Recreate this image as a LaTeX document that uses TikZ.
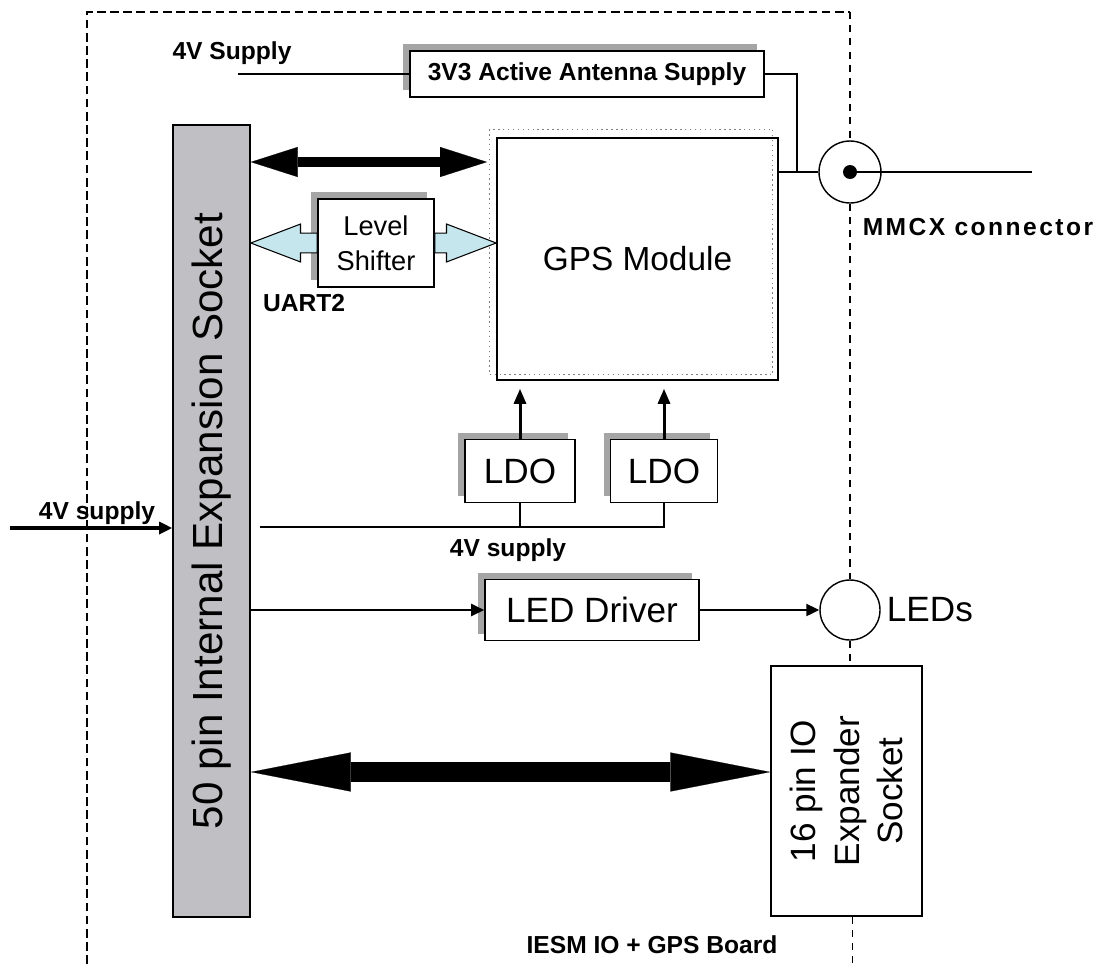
\documentclass[tikz,border=0pt]{standalone}
\usepackage{fontspec}
\setmainfont{Liberation Sans}
\usepackage{tikz}
\usetikzlibrary{arrows.meta,shadows,calc}

\definecolor{sockgray}{RGB}{192,192,196}
\definecolor{shiftblue}{RGB}{197,230,236}
\definecolor{shadowgray}{RGB}{165,165,165}

\tikzset{
  box/.style={draw, line width=0.9pt, fill=white, inner sep=0pt},
  shadowbox/.style={box, general shadow={shadow xshift=-0.14cm, shadow yshift=0.14cm, fill=shadowgray}},
  lbl/.style={font=\bfseries\fontsize{14}{16}\selectfont, inner sep=0pt},
  big/.style={font=\fontsize{20}{24}\selectfont},
  wire/.style={line width=1pt},
  sig/.style={line width=1.2pt, -{Triangle[length=0.26cm,width=0.24cm]}},
  bus/.style={line width=#1, {Triangle[length=2cm,width=0.78cm,line width=0.1pt]}-{Triangle[length=2cm,width=0.78cm,line width=0.1pt]}},
  border/.style={line width=1.5pt, dash pattern=on 5pt off 2.5pt},
  edgeline/.style={line width=0.8pt, dash pattern=on 4pt off 3.5pt},
  blockarrow/.style={line width=0.6pt, fill=shiftblue, to path={
    let \p1=(\tikztostart), \p2=(\tikztotarget), \n1={\x2-28.3*(\x2-\x1)/abs(\x2-\x1)} in
    (\x1,\y1+5.67pt) -- (\n1*1pt,\y1+5.67pt) -- (\n1*1pt,\y1+10.8pt) -- (\x2,\y1)
    -- (\n1*1pt,\y1-10.8pt) -- (\n1*1pt,\y1-5.67pt) -- (\x1,\y1-5.67pt) -- cycle}},
}

\begin{document}
\begin{tikzpicture}[x=0.02cm,y=-0.02cm]
   \useasboundingbox (0,0) rectangle (1102,964);

   % boxes
   \node[box, fill=sockgray, minimum width=1.54cm, minimum height=15.84cm] (sock) at (211.5,521) {};
   \node[rotate=90, font=\fontsize{24}{28}\selectfont] (socktxt) at (sock) {50 pin Internal Expansion Socket};

   \node[box, minimum width=5.62cm, minimum height=4.84cm, font=\fontsize{19}{23}\selectfont] (gps) at (637.5,259) {GPS Module};
   \draw[gray, dotted, line width=0.8pt] ([shift={(-7,-8)}]gps.north west) rectangle ([shift={(-6,-6)}]gps.south east);

   \node[shadowbox, lbl, minimum width=7.08cm, minimum height=0.92cm] (ant) at (587,74) {3V3 Active Antenna Supply};
   \node[shadowbox, align=center, font=\fontsize{15.5}{20}\selectfont, minimum width=2.32cm, minimum height=1.76cm] (ls) at (376,243) {Level\\Shifter};
   \node[shadowbox, big, minimum width=2.2cm, minimum height=1.26cm] (ldoa) at (520,471) {LDO};
   \node[shadowbox, big, minimum width=2.14cm, minimum height=1.26cm] (ldob) at (664,471) {LDO};
   \node[shadowbox, big, minimum width=4.28cm, minimum height=1.22cm] (drv) at (592,610) {LED Driver};

   \node[draw, circle, line width=0.8pt, minimum size=1.24cm] (mmcx) at (850,172) {};
   \node[draw, circle, line width=0.8pt, minimum size=1.2cm] (leds) at (850,610) {};
   \node[big, right] (ledtxt) at (leds.east) {LEDs};

   \node[box, minimum width=3.02cm, minimum height=5cm] (exp) at (846.5,791) {};
   \node[rotate=90, align=center, font=\fontsize{20}{25}\selectfont] (exptxt) at (exp) {16 pin IO\\Expander\\Socket};

   % labels
   \node[lbl] (suptop) at (232,53) {4V Supply};
   \node[lbl] (supleft) at (97,513) {4V supply};
   \node[lbl] (supmid) at (508,550) {4V supply};
   \node[lbl] (uart) at (304,303) {UART2};
   \node[lbl, font=\bfseries\fontsize{14}{16}\selectfont\addfontfeatures{LetterSpace=10}] (mmcxtxt) at (978,227) {MMCX connector};
   \node[lbl] (board) at (652,945) {IESM IO + GPS Board};

   % board outline
   \draw[border] (87,964) -- (87,12) -- (850,12);
   \draw[edgeline] (850,12) -- (mmcx.north);
   \draw[edgeline] (mmcx.south) -- (leds.north);
   \draw[edgeline] (leds.south) -- (leds.south |- exp.north);
   \draw[edgeline] ([xshift=0.12cm]exp.south) -- ++(0,48);

   % supplies
   \coordinate (antin) at (238,74);
   \draw[wire] (antin) -- (ant.west);
   \coordinate (rfjoin) at (797,172);
   \coordinate (rfout) at (1032,172);
   \draw[wire] (ant.east) -| (rfjoin);
   \draw[wire] (gps.east |- rfjoin) -- (mmcx.west);
   \draw[wire] (mmcx.center) -- (rfout);
   \fill (mmcx.center) circle (0.14cm);

   \coordinate (extin) at (10,528);
   \draw[sig, line width=1.8pt] (extin) -- (extin -| sock.west);
   \coordinate (supin) at (260,527);
   \draw[wire] (supin) -| (ldob.south);
   \draw[wire, line width=1.5pt] (ldoa.south) -- (ldoa.south |- supin);
   \draw[wire, line width=1.5pt] (ldob.south) -- (ldob.south |- supin);
   \draw[line width=1.7pt, -{Triangle[length=0.3cm,width=0.24cm]}, shorten >=0.16cm] (ldoa.north) -- (ldoa.north |- gps.south);
   \draw[line width=1.7pt, -{Triangle[length=0.3cm,width=0.24cm]}, shorten >=0.16cm] (ldob.north) -- (ldob.north |- gps.south);

   % buses
   \coordinate (gpsbus) at (487,162);
   \draw[line width=5.67pt, {Triangle[length=0.94cm,width=0.6cm,line width=0.1pt]}-{Triangle[length=0.94cm,width=0.6cm,line width=0.1pt]}] (sock.east |- gpsbus) -- (gpsbus);
   \draw[blockarrow] (ls.west) to (sock.east |- ls.west);
   \draw[blockarrow] (ls.east) to (gps.west |- ls.east);

   \draw[sig] (sock.east |- drv.west) -- (drv.west);
   \draw[sig] (drv.east) -- (leds.west);

   \coordinate (iobus) at (700,772);
   \draw[bus=11.9pt] (sock.east |- iobus) -- (exp.west |- iobus);
\end{tikzpicture}
\end{document}
